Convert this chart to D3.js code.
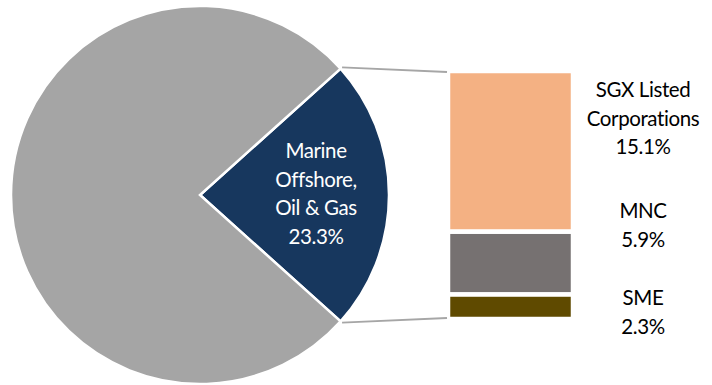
<!DOCTYPE html>
<html>
<head>
<meta charset="utf-8">
<script src="https://cdn.jsdelivr.net/npm/d3@7"></script>
<style>
  html, body { margin: 0; padding: 0; background: #ffffff; }
  svg { display: block; }
  text { font-family: Lato, "Open Sans", sans-serif; }
</style>
</head>
<body>
<svg id="chart" width="712" height="385"></svg>
<script>
// ---- data ----
const pieCategories = ["Marine Offshore, Oil & Gas", "Other Sectors"];
const pieValues = [23.3, 76.7];
const pieLabelLines = ["Marine", "Offshore,", "Oil & Gas", "23.3%"];
const pieColors = ["#17375e", "#a5a5a5"];

const barCategories = ["SGX Listed Corporations", "MNC", "SME"];
const barValues = [15.1, 5.9, 2.3];
const barLabelLines = [["SGX Listed", "Corporations", "15.1%"], ["MNC", "5.9%"], ["SME", "2.3%"]];
const barColors = ["#f4b183", "#767171", "#5f4a00"];

// ---- layout ----
const svg = d3.select("#chart");
const cx = 200, cy = 195, r = 189;
const fontSize = 20.5;
const letterSp = -0.4;
const lineH = 28.5;

const half = (pieValues[0] / d3.sum(pieValues)) * Math.PI;
const pie = d3.pie().sort(null)
  .startAngle(Math.PI / 2 - half)
  .endAngle(Math.PI / 2 - half + 2 * Math.PI);
const arcs = pie(pieValues);
const arc = d3.arc().innerRadius(0).outerRadius(r);

const g = svg.append("g").attr("transform", `translate(${cx},${cy})`);
g.selectAll("path").data(arcs).join("path")
  .attr("d", arc)
  .attr("fill", (d, i) => pieColors[i])
  .attr("stroke", "#ffffff")
  .attr("stroke-width", 2.5)
  .attr("stroke-linejoin", "miter");

// pie label
const pl = g.append("text")
  .attr("fill", "#ffffff")
  .attr("font-size", fontSize)
  .attr("letter-spacing", letterSp)
  .attr("text-anchor", "middle");
pieLabelLines.forEach((t, i) => {
  pl.append("tspan").attr("x", 116).attr("y", -37 + i * lineH).text(t);
});

// bar stack
const barX = 450, barW = 121;
const total = d3.sum(barValues);
const y = d3.scaleLinear().domain([0, total]).range([71, 319]);
const cum = [];
let acc = 0;
barValues.forEach(v => { cum.push([acc, acc + v]); acc += v; });

svg.append("g").selectAll("rect").data(cum).join("rect")
  .attr("x", barX - 2)
  .attr("width", barW + 4)
  .attr("y", d => y(d[0]))
  .attr("height", d => y(d[1]) - y(d[0]))
  .attr("fill", (d, i) => barColors[i])
  .attr("stroke", "#ffffff")
  .attr("stroke-width", 4.5);

// connector lines
const a0 = arcs[0].startAngle, a1 = arcs[0].endAngle;
const p0 = [cx + (r + 2) * Math.sin(a0), cy - (r + 2) * Math.cos(a0)];
const p1 = [cx + (r + 2) * Math.sin(a1), cy - (r + 2) * Math.cos(a1)];
svg.append("line")
  .attr("x1", p0[0]).attr("y1", p0[1])
  .attr("x2", barX - 3).attr("y2", y(0) + 1)
  .attr("stroke", "#a6a6a6").attr("stroke-width", 1.8);
svg.append("line")
  .attr("x1", p1[0]).attr("y1", p1[1])
  .attr("x2", barX - 3).attr("y2", y(total) - 1)
  .attr("stroke", "#a6a6a6").attr("stroke-width", 1.8);

// bar labels
const labelX = 643;
const firstBaselines = [97, 218, 305];
barLabelLines.forEach((lines, k) => {
  const t = svg.append("text")
    .attr("fill", "#000000")
    .attr("font-size", fontSize)
    .attr("letter-spacing", letterSp)
    .attr("text-anchor", "middle");
  lines.forEach((s, i) => {
    t.append("tspan").attr("x", labelX).attr("y", firstBaselines[k] + i * lineH).text(s);
  });
});
</script>
</body>
</html>
